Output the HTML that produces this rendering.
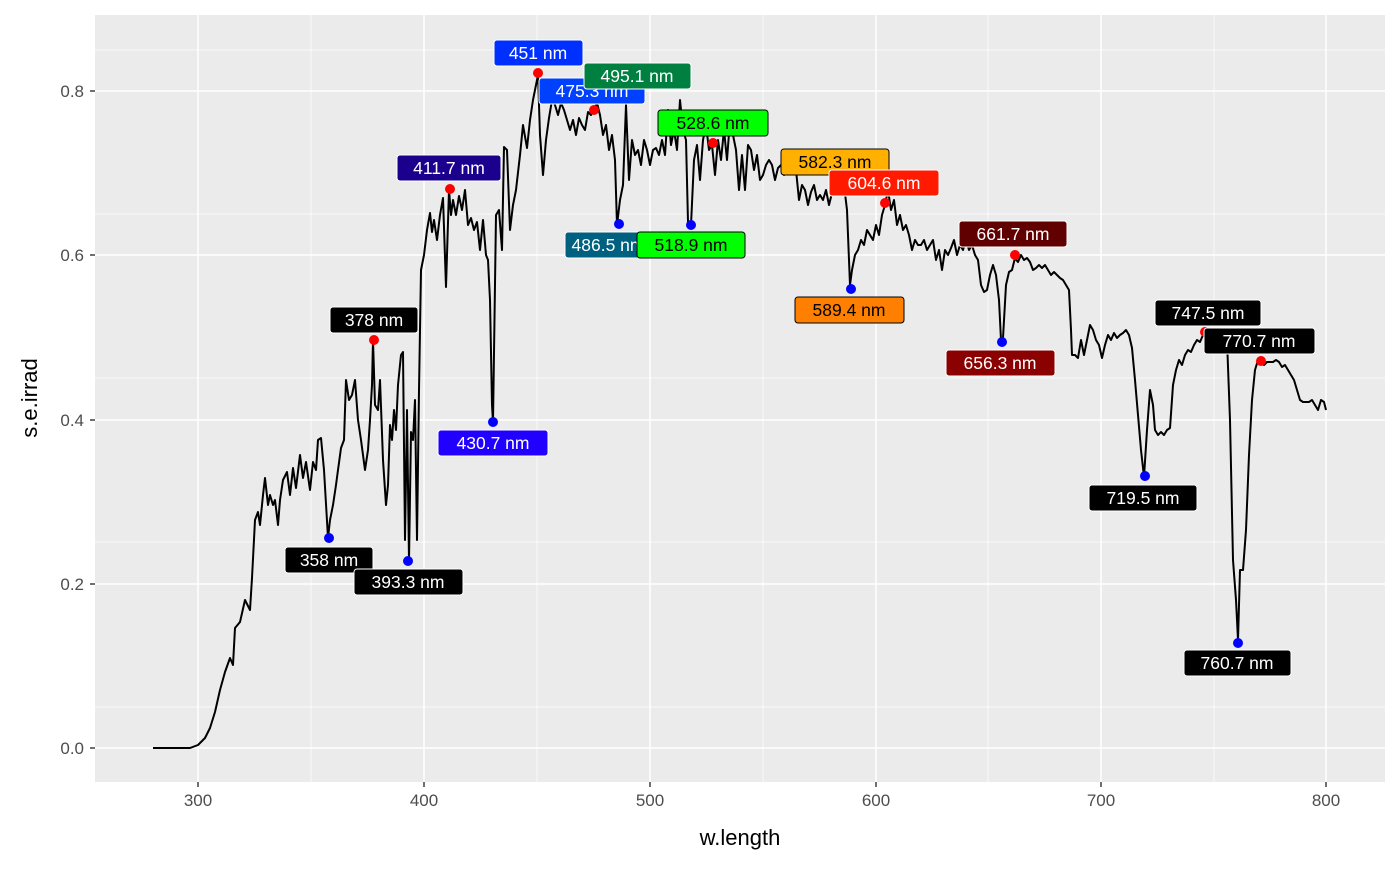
<!DOCTYPE html>
<html><head><meta charset="utf-8"><style>
html,body{margin:0;padding:0;background:#fff;}
svg text{font-family:"Liberation Sans",Arial,sans-serif;}
</style></head><body>
<svg width="1400" height="866" xmlns="http://www.w3.org/2000/svg">
<rect width="1400" height="866" fill="#fff"/>
<rect x="95" y="15" width="1290" height="767" fill="#ebebeb"/>
<g stroke="#fff" stroke-width="0.7">
<line x1="95" x2="1385" y1="707" y2="707"/><line x1="95" x2="1385" y1="542" y2="542"/><line x1="95" x2="1385" y1="378" y2="378"/><line x1="95" x2="1385" y1="214" y2="214"/><line x1="95" x2="1385" y1="50" y2="50"/>
<line y1="15" y2="782" x1="311" x2="311"/><line y1="15" y2="782" x1="537" x2="537"/><line y1="15" y2="782" x1="763" x2="763"/><line y1="15" y2="782" x1="988" x2="988"/><line y1="15" y2="782" x1="1214" x2="1214"/>
</g>
<g stroke="#fff" stroke-width="1.5">
<line x1="95" x2="1385" y1="748" y2="748"/><line x1="95" x2="1385" y1="584" y2="584"/><line x1="95" x2="1385" y1="420" y2="420"/><line x1="95" x2="1385" y1="255" y2="255"/><line x1="95" x2="1385" y1="91" y2="91"/>
<line y1="15" y2="782" x1="198" x2="198"/><line y1="15" y2="782" x1="424" x2="424"/><line y1="15" y2="782" x1="650" x2="650"/><line y1="15" y2="782" x1="876" x2="876"/><line y1="15" y2="782" x1="1101" x2="1101"/><line y1="15" y2="782" x1="1326" x2="1326"/>
</g>
<polyline fill="none" stroke="#000" stroke-width="2" stroke-linejoin="round" points="153,748 190,748 198,745 205,738 210,728 215,712 220,690 225,672 230,658 233,665 235,628 240,622 245,600 250,610 252,578 255,520 258,512 260,525 263,495 265,478 268,505 270,495 273,505 275,500 278,525 280,500 283,480 287,472 290,495 293,468 296,488 300,455 303,478 306,462 310,490 313,462 316,470 318,440 321,438 324,470 328,538 330,520 333,505 336,485 338,470 341,448 344,440 346,380 349,400 352,395 355,380 358,420 361,440 365,470 368,450 370,420 372,385 373,340 375,405 378,410 380,380 383,460 386,505 388,485 390,425 392,440 394,410 396,430 398,385 401,355 403,352 405,540 407,410 409,561 411,432 413,440 415,400 417,540 419,390 421,270 424,255 427,230 430,213 432,232 434,220 437,240 440,215 443,198 446,287 449,190 451,215 453,200 456,215 459,196 462,210 465,190 468,225 471,218 474,230 477,222 480,250 483,220 486,255 488,260 490,300 492,405 493,422 496,215 499,210 502,250 504,147 507,150 510,230 513,205 516,190 520,155 523,125 527,148 530,120 533,100 536,85 538,75 540,135 543,175 546,140 549,118 552,100 555,105 558,115 561,103 564,110 567,120 570,130 573,120 576,135 579,118 582,125 585,130 588,112 591,115 594,110 597,103 600,115 603,135 606,125 609,150 612,135 615,160 617,225 620,200 623,185 626,105 629,180 632,140 635,155 638,150 641,165 644,140 647,150 650,165 653,150 656,148 659,155 662,140 665,155 668,110 671,145 674,130 677,150 680,100 683,130 686,140 688,222 691,225 694,160 697,145 700,180 703,140 706,125 709,150 712,145 715,175 718,140 721,160 724,130 727,160 730,120 733,135 736,150 739,190 742,155 745,190 748,145 751,150 754,170 757,155 760,180 763,175 766,165 769,160 772,165 775,180 778,168 781,165 784,175 787,160 790,158 793,165 796,170 799,200 802,185 805,190 808,205 811,192 814,185 817,200 820,195 823,200 826,190 829,205 832,193 835,185 838,195 841,178 844,185 847,210 850,285 852,270 855,255 858,250 861,240 864,245 867,230 870,235 873,240 876,225 879,235 882,215 885,205 888,190 891,210 894,200 897,225 900,215 903,230 906,225 909,235 912,250 915,240 918,245 921,245 924,240 927,250 930,245 933,240 936,260 939,250 942,270 945,250 948,255 951,248 954,240 957,255 960,245 963,250 966,240 969,250 972,245 975,255 978,260 981,285 984,292 987,290 990,275 993,265 996,275 999,300 1001,340 1003,338 1006,285 1009,272 1012,270 1015,258 1018,262 1021,255 1024,260 1027,258 1030,262 1033,270 1036,268 1039,265 1042,268 1045,265 1048,270 1051,275 1054,272 1057,275 1060,278 1063,280 1066,285 1069,290 1071,330 1072,355 1075,355 1078,358 1081,340 1084,355 1087,340 1090,325 1093,330 1096,340 1099,345 1102,358 1105,345 1108,335 1111,340 1114,333 1117,338 1120,335 1123,333 1126,330 1129,335 1132,348 1135,380 1138,415 1141,450 1144,477 1147,430 1150,390 1153,405 1155,430 1158,435 1161,432 1164,435 1167,430 1170,428 1173,385 1176,370 1179,360 1182,365 1185,355 1188,350 1191,352 1194,345 1197,340 1200,342 1203,335 1206,338 1209,330 1212,345 1215,340 1218,338 1221,345 1224,340 1227,340 1230,420 1233,560 1236,600 1238,640 1240,570 1243,570 1246,530 1249,455 1252,400 1255,370 1258,360 1261,358 1264,365 1267,362 1270,362 1273,362 1276,360 1279,362 1282,367 1285,365 1288,370 1291,375 1294,380 1297,390 1300,400 1303,402 1306,402 1309,402 1312,400 1315,405 1318,410 1321,400 1324,402 1326,410"/>
<g fill="#ff0000">
<circle cx="538" cy="73" r="5"/><circle cx="594" cy="110" r="5"/><circle cx="713" cy="143" r="5"/><circle cx="450" cy="189" r="5"/><circle cx="885" cy="203" r="5"/><circle cx="1015" cy="255" r="5"/><circle cx="374" cy="340" r="5"/><circle cx="1205" cy="332" r="5"/><circle cx="1261" cy="361" r="5"/><circle cx="836" cy="183" r="5"/>
</g>
<g fill="#0000ff">
<circle cx="619" cy="224" r="5"/><circle cx="691" cy="225" r="5"/><circle cx="851" cy="289" r="5"/><circle cx="1002" cy="342" r="5"/><circle cx="493" cy="422" r="5"/><circle cx="329" cy="538" r="5"/><circle cx="408" cy="561" r="5"/><circle cx="1145" cy="476" r="5"/><circle cx="1238" cy="643" r="5"/>
</g>
<g font-size="17.5" text-anchor="middle" stroke-width="1">
<g><rect x="565" y="232" width="86" height="26" rx="3" fill="#006080" stroke="#fff"/><text x="608" y="251" fill="#fff">486.5 nm</text></g>
<g><rect x="637" y="232" width="108" height="26" rx="3" fill="#00ff00" stroke="#000"/><text x="691" y="251" fill="#000">518.9 nm</text></g>
<g><rect x="539" y="78" width="106" height="26" rx="3" fill="#0040ff" stroke="#fff"/><text x="592" y="97" fill="#fff">475.3 nm</text></g>
<g><rect x="494" y="40" width="89" height="26" rx="3" fill="#0030ff" stroke="#fff"/><text x="538" y="59" fill="#fff">451 nm</text></g>
<g><rect x="584" y="63" width="107" height="26" rx="3" fill="#008040" stroke="#fff"/><text x="637" y="82" fill="#fff">495.1 nm</text></g>
<g><rect x="658" y="110" width="110" height="26" rx="3" fill="#00ff00" stroke="#000"/><text x="713" y="129" fill="#000">528.6 nm</text></g>
<g><rect x="397" y="155" width="104" height="26" rx="3" fill="#1a008c" stroke="#fff"/><text x="449" y="174" fill="#fff">411.7 nm</text></g>
<g><rect x="781" y="149" width="108" height="26" rx="3" fill="#ffb000" stroke="#000"/><text x="835" y="168" fill="#000">582.3 nm</text></g>
<g><rect x="829" y="170" width="110" height="26" rx="3" fill="#ff1a00" stroke="#fff"/><text x="884" y="189" fill="#fff">604.6 nm</text></g>
<g><rect x="795" y="297" width="109" height="26" rx="3" fill="#ff7f00" stroke="#000"/><text x="849" y="316" fill="#000">589.4 nm</text></g>
<g><rect x="959" y="221" width="108" height="26" rx="3" fill="#600000" stroke="#fff"/><text x="1013" y="240" fill="#fff">661.7 nm</text></g>
<g><rect x="946" y="350" width="109" height="26" rx="3" fill="#8b0000" stroke="#fff"/><text x="1000" y="369" fill="#fff">656.3 nm</text></g>
<g><rect x="330" y="307" width="88" height="26" rx="3" fill="#000" stroke="#fff"/><text x="374" y="326" fill="#fff">378 nm</text></g>
<g><rect x="438" y="430" width="110" height="26" rx="3" fill="#2200ff" stroke="#fff"/><text x="493" y="449" fill="#fff">430.7 nm</text></g>
<g><rect x="285" y="547" width="88" height="26" rx="3" fill="#000" stroke="#fff"/><text x="329" y="566" fill="#fff">358 nm</text></g>
<g><rect x="354" y="569" width="109" height="26" rx="3" fill="#000" stroke="#fff"/><text x="408" y="588" fill="#fff">393.3 nm</text></g>
<g><rect x="1155" y="300" width="106" height="26" rx="3" fill="#000" stroke="#fff"/><text x="1208" y="319" fill="#fff">747.5 nm</text></g>
<g><rect x="1204" y="328" width="111" height="26" rx="3" fill="#000" stroke="#fff"/><text x="1259" y="347" fill="#fff">770.7 nm</text></g>
<g><rect x="1089" y="485" width="108" height="26" rx="3" fill="#000" stroke="#fff"/><text x="1143" y="504" fill="#fff">719.5 nm</text></g>
<g><rect x="1184" y="650" width="107" height="26" rx="3" fill="#000" stroke="#fff"/><text x="1237" y="669" fill="#fff">760.7 nm</text></g>
</g>
<g stroke="#333" stroke-width="1.4">
<line x1="90" x2="95" y1="748" y2="748"/><line x1="90" x2="95" y1="584" y2="584"/><line x1="90" x2="95" y1="420" y2="420"/><line x1="90" x2="95" y1="255" y2="255"/><line x1="90" x2="95" y1="91" y2="91"/>
<line y1="782" y2="787" x1="198" x2="198"/><line y1="782" y2="787" x1="424" x2="424"/><line y1="782" y2="787" x1="650" x2="650"/><line y1="782" y2="787" x1="876" x2="876"/><line y1="782" y2="787" x1="1101" x2="1101"/><line y1="782" y2="787" x1="1326" x2="1326"/>
</g>
<g font-size="17" fill="#4d4d4d" text-anchor="end">
<text x="84" y="754">0.0</text><text x="84" y="590">0.2</text><text x="84" y="426">0.4</text><text x="84" y="261">0.6</text><text x="84" y="97">0.8</text>
</g>
<g font-size="17" fill="#4d4d4d" text-anchor="middle">
<text x="198" y="806">300</text><text x="424" y="806">400</text><text x="650" y="806">500</text><text x="876" y="806">600</text><text x="1101" y="806">700</text><text x="1326" y="806">800</text>
</g>
<text x="740" y="845" font-size="22" text-anchor="middle" fill="#000">w.length</text>
<text transform="translate(37,398) rotate(-90)" font-size="22" text-anchor="middle" fill="#000">s.e.irrad</text>
</svg>
</body></html>
